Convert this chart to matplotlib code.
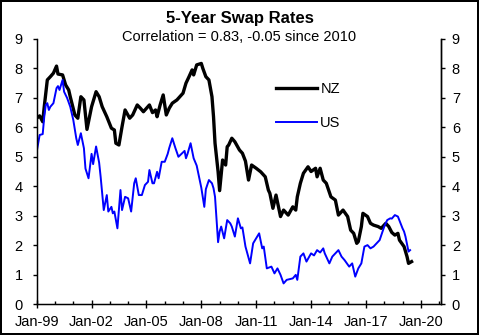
import matplotlib
matplotlib.use("Agg")
import matplotlib.pyplot as plt
import matplotlib.dates as mdates
from matplotlib.ticker import FixedLocator
import pandas as pd

plt.rcParams['font.family'] = ['Liberation Sans', 'DejaVu Sans']

nz_dates = ["1999-01", "1999-03", "1999-05", "1999-06", "1999-08", "1999-10", "1999-12",
            "2000-02", "2000-03", "2000-06", "2000-08", "2000-10", "2000-11",
            "2001-02", "2001-04", "2001-06", "2001-08", "2001-10",
            "2002-01", "2002-04", "2002-06", "2002-08", "2002-11",
            "2003-02", "2003-04", "2003-05", "2003-07", "2003-09", "2003-11",
            "2004-02", "2004-04", "2004-07", "2004-09", "2004-11",
            "2005-03", "2005-05", "2005-07", "2005-08", "2005-10", "2005-12",
            "2006-02", "2006-04", "2006-06", "2006-09",
            "2007-01", "2007-03", "2007-05", "2007-07", "2007-08", "2007-10",
            "2008-01", "2008-02", "2008-04", "2008-06", "2008-08", "2008-09", "2008-10", "2008-12",
            "2009-01", "2009-03", "2009-05", "2009-06", "2009-07", "2009-09", "2009-11",
            "2010-02", "2010-04", "2010-06", "2010-08", "2010-10",
            "2011-01", "2011-04", "2011-07", "2011-09", "2011-10", "2011-12",
            "2012-02", "2012-05", "2012-07", "2012-10",
            "2013-01", "2013-03", "2013-04", "2013-06", "2013-08", "2013-11",
            "2014-01", "2014-04", "2014-05", "2014-07", "2014-09", "2014-11",
            "2015-02", "2015-05", "2015-07", "2015-10",
            "2016-01", "2016-03", "2016-05", "2016-07", "2016-08", "2016-10", "2016-11",
            "2017-02", "2017-04", "2017-06", "2017-09", "2017-11",
            "2018-02", "2018-04", "2018-06", "2018-08", "2018-10", "2018-11",
            "2019-02", "2019-04", "2019-05", "2019-07"]
nz_values = [6.31, 6.39, 6.19, 6.70, 7.61, 7.72, 7.84,
             8.08, 7.81, 7.78, 7.44, 7.27, 7.04,
             6.42, 6.31, 7.04, 6.93, 5.93,
             6.70, 7.21, 7.04, 6.70, 6.36,
             5.97, 5.91, 5.46, 5.40, 6.02, 6.59,
             6.31, 6.42, 6.76, 6.65, 6.53,
             6.76, 6.50, 6.59, 6.36, 6.76, 7.10,
             6.42, 6.65, 6.82, 6.93,
             7.16, 7.50, 7.72, 7.95, 7.78, 8.12,
             8.17, 8.00, 7.72, 7.61, 7.04, 6.36, 5.46, 4.50,
             3.85, 4.89, 4.72, 5.34, 5.40, 5.63, 5.51,
             5.23, 5.12, 4.85, 4.21, 4.72,
             4.61, 4.49, 4.32, 3.87, 3.76, 3.25,
             3.70, 2.97, 3.19, 3.02,
             3.30, 3.19, 3.64, 4.10, 4.44, 4.66,
             4.50, 4.61, 4.32, 4.61, 4.21, 4.10,
             3.64, 3.53, 3.02, 3.19,
             2.97, 2.51, 2.40, 2.06, 2.12, 2.63, 3.08,
             2.97, 2.74, 2.68, 2.63, 2.57,
             2.74, 2.63, 2.43, 2.34, 2.40, 2.17,
             1.95, 1.61, 1.38, 1.44]

us_dates = ["1999-01", "1999-03", "1999-05", "1999-06", "1999-07", "1999-08", "1999-09", "1999-10", "1999-12",
            "2000-02", "2000-03", "2000-04", "2000-06", "2000-07", "2000-09", "2000-11",
            "2001-01", "2001-03", "2001-04", "2001-06", "2001-08", "2001-09", "2001-11",
            "2002-01", "2002-02", "2002-04", "2002-06", "2002-07", "2002-09", "2002-11", "2002-12",
            "2003-02", "2003-03", "2003-04", "2003-06", "2003-08", "2003-09", "2003-11",
            "2004-01", "2004-03", "2004-05", "2004-06", "2004-08", "2004-10", "2004-12",
            "2005-02", "2005-03", "2005-05", "2005-06", "2005-08", "2005-09", "2005-11",
            "2006-01", "2006-03", "2006-04", "2006-06", "2006-08", "2006-10", "2006-12",
            "2007-02", "2007-03", "2007-04", "2007-06", "2007-08", "2007-10",
            "2008-01", "2008-03", "2008-04", "2008-06", "2008-08", "2008-09", "2008-10", "2008-12",
            "2009-01", "2009-02", "2009-04", "2009-06", "2009-08", "2009-09", "2009-11",
            "2010-01", "2010-03", "2010-04", "2010-06", "2010-09", "2010-11",
            "2011-03", "2011-05", "2011-06", "2011-08", "2011-11",
            "2012-01", "2012-03", "2012-05", "2012-07", "2012-09",
            "2013-01", "2013-03", "2013-04", "2013-06", "2013-08", "2013-10",
            "2014-01", "2014-03", "2014-05", "2014-07", "2014-09", "2014-10",
            "2015-01", "2015-03", "2015-05", "2015-07", "2015-09", "2015-11",
            "2016-02", "2016-04", "2016-06", "2016-08", "2016-10", "2016-12",
            "2017-02", "2017-04", "2017-06", "2017-08", "2017-10",
            "2018-01", "2018-03", "2018-05", "2018-06", "2018-08", "2018-10",
            "2019-01", "2019-02", "2019-03", "2019-05", "2019-06"]
us_values = [5.17, 5.74, 5.77, 6.36, 6.76, 6.82, 6.59, 6.70, 6.82,
             7.33, 7.40, 7.27, 7.61, 7.21, 6.99, 6.70,
             6.25, 5.63, 5.40, 5.80, 5.29, 4.60, 4.27,
             5.10, 4.75, 5.35, 4.80, 4.32, 3.19, 3.70, 3.14,
             3.30, 3.08, 3.14, 2.57, 3.87, 3.19, 3.64,
             3.59, 3.14, 4.10, 4.27, 3.70, 3.70, 4.04,
             4.15, 4.55, 4.10, 4.10, 4.49, 4.27, 4.83,
             4.83, 5.10, 5.30, 5.63, 5.30, 5.00, 5.10,
             5.20, 4.95, 5.10, 5.46, 4.95, 4.70,
             3.95, 3.30, 3.90, 4.21, 4.10, 3.93, 3.64, 2.10,
             2.46, 2.63, 2.23, 2.85, 2.74, 2.63, 2.29,
             2.91, 2.57, 2.60, 1.95, 1.38, 2.06,
             2.40, 1.89, 1.95, 1.21, 1.27,
             1.04, 1.21, 0.99, 0.70, 0.82,
             0.87, 0.99, 0.82, 1.61, 1.72, 1.44,
             1.72, 1.65, 1.83, 1.75, 1.89, 1.72,
             1.38, 1.61, 1.72, 1.83, 1.61, 1.49,
             1.27, 1.38, 0.93, 1.21, 1.38, 1.95,
             2.00, 1.89, 1.95, 2.06, 2.17,
             2.63, 2.85, 2.91, 2.90, 3.02, 2.97,
             2.57, 2.46, 2.29, 1.78, 1.83]

y_ticks = list(range(0, 10))
x_tick_years = [1999, 2002, 2005, 2008, 2011, 2014, 2017, 2020]

nz_x = pd.to_datetime(nz_dates)
us_x = pd.to_datetime(us_dates)

fig = plt.figure(figsize=(4.79, 3.35), dpi=100, facecolor='white',
                 edgecolor='black', linewidth=1.5)
ax = fig.add_axes([0.0766, 0.0925, 0.8434, 0.7911])

ax.plot(nz_x, nz_values, color='black', lw=2.4, label='NZ', solid_joinstyle='round')
ax.plot(us_x, us_values, color='#0000FF', lw=1.4, label='US', solid_joinstyle='round')

ax.set_ylim(0, 9)
ax.set_xlim(pd.Timestamp("1999-01-01"), pd.Timestamp("2021-02-01"))
ax.set_yticks(y_ticks)

major = [mdates.date2num(pd.Timestamp(f"{y}-01-01")) for y in x_tick_years]
minor = [mdates.date2num(pd.Timestamp(f"{y}-01-01")) for y in range(1999, 2022)]
ax.xaxis.set_major_locator(FixedLocator(major))
ax.xaxis.set_minor_locator(FixedLocator(minor))
ax.xaxis.set_major_formatter(mdates.DateFormatter("%b-%y"))

ax.spines['top'].set_visible(False)
for s in ['left', 'right', 'bottom']:
    ax.spines[s].set_linewidth(1.0)
    ax.spines[s].set_color('black')

ax.tick_params(axis='x', which='major', direction='inout', length=6, width=1, pad=5, labelsize=10.5)
ax.tick_params(axis='x', which='minor', direction='in', length=2.5, width=1)
ax.tick_params(axis='y', which='major', direction='out', length=3, width=1, pad=7, labelsize=10.5)

ax2 = ax.twinx()
ax2.set_ylim(0, 9)
ax2.set_yticks(y_ticks)
ax2.spines['top'].set_visible(False)
ax2.spines['right'].set_linewidth(1.0)
ax2.tick_params(axis='y', which='major', direction='out', length=3, width=1, pad=5, labelsize=10.5)

leg = ax.legend(loc='upper left', bbox_to_anchor=(0.592, 0.838), frameon=False,
                fontsize=10.5, handlelength=2.8, handletextpad=0.25,
                labelspacing=1.35, borderpad=0, borderaxespad=0)

fig.text(0.5, 1 - 19 / 335, "5-Year Swap Rates", ha='center', va='center',
         fontsize=12, fontweight='bold')
fig.text(0.5, 1 - 37 / 335, "Correlation = 0.83, -0.05 since 2010", ha='center', va='center',
         fontsize=10.5)

fig.savefig("out.png", dpi=100)
